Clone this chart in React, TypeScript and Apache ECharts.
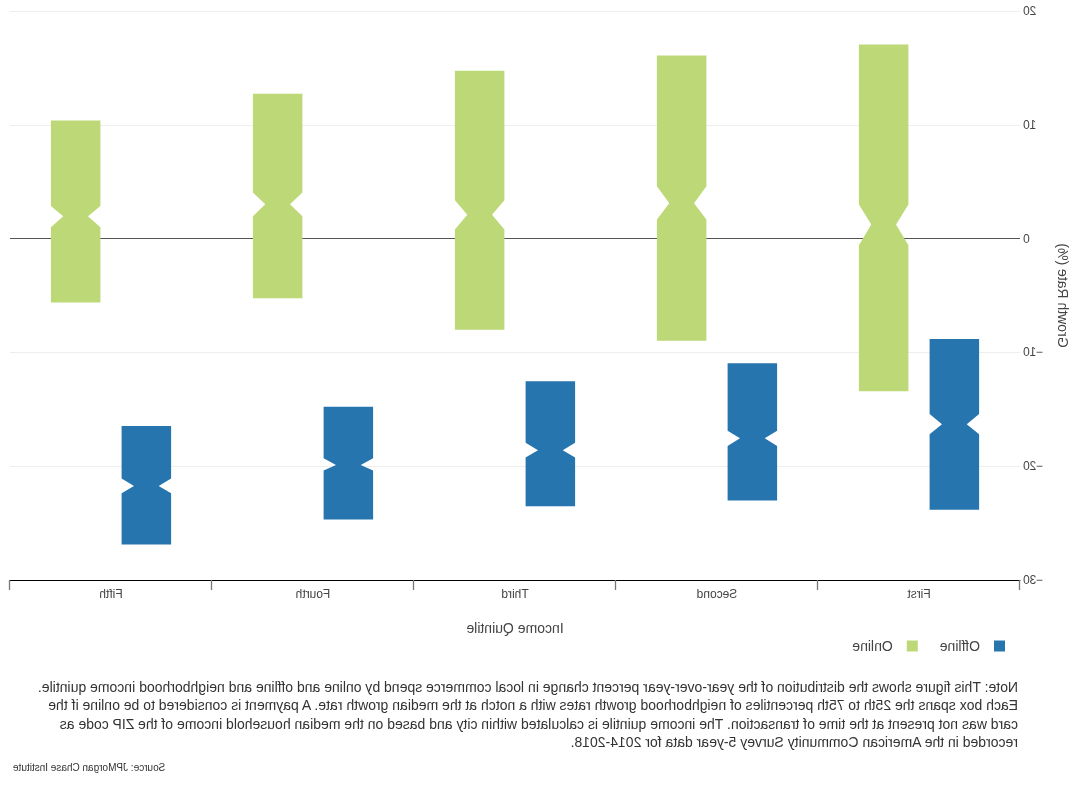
import React, { useEffect, useRef } from "react";
import * as echarts from "echarts";

// Income quintile categories (x axis)
const categories = ["First", "Second", "Third", "Fourth", "Fifth"];
const seriesNames = ["Offline", "Online"];
const seriesColors = ["#2675ae", "#bdd977"];

// Offline spend growth (%): 25th pct, notch low, median, notch high, 75th pct
const offlineQ1 = [-23.83, -23.02, -23.51, -24.68, -26.88];
const offlineNotchLow = [-17.19, -18.22, -19.24, -20.38, -22.37];
const offlineMedian = [-16.32, -17.54, -18.6, -19.89, -21.73];
const offlineNotchHigh = [-15.41, -16.88, -17.93, -19.3, -21.09];
const offlineQ3 = [-8.83, -10.96, -12.54, -14.77, -16.46];

// Online spend growth (%)
const onlineQ1 = [-13.42, -8.98, -8.02, -5.24, -5.61];
const onlineNotchLow = [-0.59, 1.67, 0.79, 1.96, 0.99];
const onlineMedian = [1.23, 3.1, 2.1, 3.01, 1.96];
const onlineNotchHigh = [3.0, 4.59, 3.36, 4.04, 2.86];
const onlineQ3 = [17.05, 16.08, 14.76, 12.72, 10.38];

const yMin = -30;
const yMax = 20;
const yInterval = 10;

const noteLines = [
  "Note: This figure shows the distribution of the year-over-year percent change in local commerce spend by online and offline and neighborhood income quintile.",
  "Each box spans the 25th to 75th percentiles of neighborhood growth rates with a notch at the median growth rate. A payment is considered to be online if the",
  "card was not present at the time of transaction. The income quintile is calculated within city and based on the median household income of the ZIP code as",
  "recorded in the American Community Survey 5-year data for 2014-2018.",
];
const sourceText = "Source: JPMorgan Chase Institute";

const FONT = "'Liberation Sans', Arial, Helvetica, sans-serif";
const BOX_GAP = 0.3;
const BOX_GROUP_GAP = 0.3;
const NOTCH_WIDTH = 0.25;

function buildData(q1: number[], nlo: number[], med: number[], nhi: number[], q3: number[]) {
  return categories.map((_, i) => [i, q1[i], nlo[i], med[i], nhi[i], q3[i]]);
}

function makeRender(slot: number) {
  return (params: any, api: any) => {
    const cat = api.value(0);
    const q1 = api.value(1);
    const nLo = api.value(2);
    const med = api.value(3);
    const nHi = api.value(4);
    const q3 = api.value(5);
    const catW = api.size([1, 0])[0];
    const groupW = catW * (1 - BOX_GAP);
    const slotW = groupW / 2;
    const boxW = slotW * (1 - BOX_GROUP_GAP);
    const center = api.coord([cat, 0])[0] + (slot - 0.5) * slotW;
    const x0 = center - boxW / 2;
    const x1 = center + boxW / 2;
    const nw = boxW * NOTCH_WIDTH;
    const y = (v: number) => api.coord([cat, v])[1];
    const points = [
      [x0, y(q3)],
      [x1, y(q3)],
      [x1, y(nHi)],
      [x1 - nw, y(med)],
      [x1, y(nLo)],
      [x1, y(q1)],
      [x0, y(q1)],
      [x0, y(nLo)],
      [x0 + nw, y(med)],
      [x0, y(nHi)],
    ];
    return {
      type: "polygon",
      shape: { points },
      style: { fill: api.visual("color") },
    };
  };
}

export default function App() {
  const ref = useRef<HTMLDivElement>(null);

  useEffect(() => {
    if (!ref.current) return;
    const chart = echarts.init(ref.current, undefined, { renderer: "svg" });
    const option: any = {
      animation: false,
      backgroundColor: "#ffffff",
      textStyle: { fontFamily: FONT },
      grid: { left: 50, right: 10, top: 11, bottom: 220, containLabel: false, outerBoundsMode: "none" },
      legend: {
        left: 65,
        top: 639,
        padding: 0,
        icon: "rect",
        itemWidth: 11,
        itemHeight: 11,
        itemGap: 22,
        textStyle: { fontSize: 14, color: "#444", fontFamily: FONT, padding: [0, 0, 0, 9] },
        data: seriesNames.map((n, i) => ({ name: n, itemStyle: { color: seriesColors[i] } })),
      },
      xAxis: {
        type: "category",
        data: categories,
        boundaryGap: true,
        name: "Income Quintile",
        nameLocation: "middle",
        nameGap: 41,
        nameTextStyle: { fontSize: 14, color: "#444", fontFamily: FONT },
        axisLine: { show: true, onZero: false, lineStyle: { color: "#000", width: 1 } },
        axisTick: { show: true, length: 10, alignWithLabel: false, lineStyle: { color: "#777", width: 1.3 } },
        axisLabel: { fontSize: 12, color: "#444", margin: 8, fontFamily: FONT },
        splitLine: { show: false },
      },
      yAxis: {
        type: "value",
        min: yMin,
        max: yMax,
        interval: yInterval,
        name: "Growth Rate (%)",
        nameLocation: "middle",
        nameRotate: 90,
        nameGap: 36,
        nameTextStyle: { fontSize: 14, color: "#444", fontFamily: FONT },
        axisLine: { show: false },
        axisTick: { show: false },
        axisLabel: {
          fontSize: 12,
          color: "#444",
          margin: 3,
          fontFamily: FONT,
          formatter: (v: number) => String(v).replace("-", "\u2212"),
        },
        splitLine: { show: true, lineStyle: { color: "#eeeeee", width: 1 } },
      },
      graphic: [
        {
          type: "text",
          left: 52,
          top: 678,
          style: {
            text: noteLines.join("\n"),
            fontSize: 14,
            lineHeight: 18.3,
            fill: "#333",
            fontFamily: FONT,
          },
        },
        {
          type: "text",
          right: 13,
          top: 762,
          style: {
            text: sourceText,
            fontSize: 10,
            fill: "#333",
            fontFamily: FONT,
          },
        },
      ],
      series: [
        {
          name: seriesNames[0],
          type: "custom",
          renderItem: makeRender(0),
          itemStyle: { color: seriesColors[0] },
          encode: { x: 0, y: [1, 2, 3, 4, 5] },
          data: buildData(offlineQ1, offlineNotchLow, offlineMedian, offlineNotchHigh, offlineQ3),
          markLine: {
            silent: true,
            symbol: "none",
            z: 1,
            label: { show: false },
            lineStyle: { color: "#555", width: 1, type: "solid" },
            data: [{ yAxis: 0 }],
          },
        },
        {
          name: seriesNames[1],
          type: "custom",
          renderItem: makeRender(1),
          itemStyle: { color: seriesColors[1] },
          encode: { x: 0, y: [1, 2, 3, 4, 5] },
          data: buildData(onlineQ1, onlineNotchLow, onlineMedian, onlineNotchHigh, onlineQ3),
        },
      ],
    };
    chart.setOption(option);
    return () => chart.dispose();
  }, []);

  return (
    <div
      style={{
        position: "fixed",
        left: 0,
        top: 0,
        width: 1070,
        height: 800,
        transform: "scaleX(-1)",
        background: "#fff",
      }}
    >
      <div ref={ref} style={{ width: 1070, height: 800 }} />
    </div>
  );
}
